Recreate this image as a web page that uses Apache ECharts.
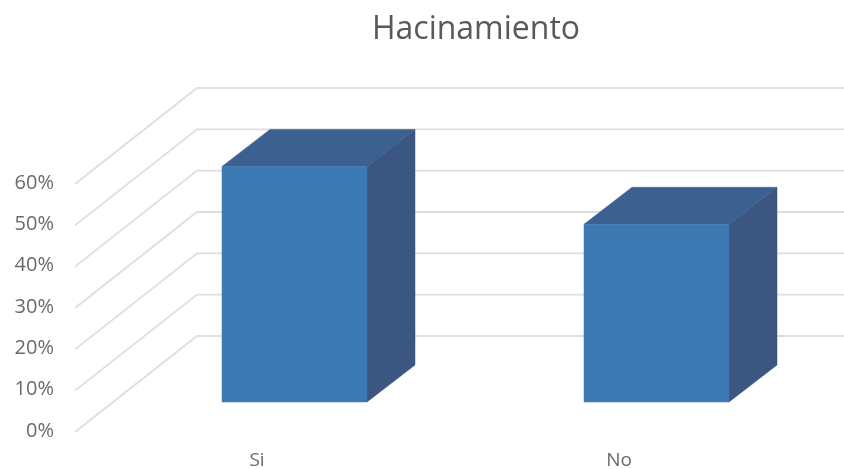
<!DOCTYPE html>
<html><head><meta charset="utf-8">
<style>html,body{margin:0;padding:0;background:#fff}#c{width:844px;height:469px}</style>
<script src="https://cdn.jsdelivr.net/npm/echarts@6/dist/echarts.min.js"></script>
</head><body><div id="c"></div>
<script>
const titleText = 'Hacinamiento';
const categories = ['Si', 'No'];
const values = [57, 43];
const ticks = [0, 10, 20, 30, 40, 50, 60];

const DEPTH_X = 122, DEPTH_Y = -95;      // wall depth in px
const BAR_FRONT_X = 37, BAR_FRONT_Y = -29, BAR_DEPTH_X = 48, BAR_DEPTH_Y = -37;
const BAR_WIDTH = 145;
const GRID_COLOR = '#dedede';

const chart = echarts.init(document.getElementById('c'), null, {renderer: 'canvas'});

function renderWall(params, api) {
  const y = api.coord([0, api.value(1)])[1];
  const x0 = params.coordSys.x;
  return {
    type: 'polyline', silent: true,
    shape: {points: [[x0 - 1, y + 1], [x0 - 1 + DEPTH_X, y + DEPTH_Y], [844, y + DEPTH_Y]]},
    style: {fill: null, stroke: GRID_COLOR, lineWidth: 1.8}
  };
}

function renderBar(params, api) {
  const base = api.coord([api.value(0), 0]);
  const top = api.coord([api.value(0), api.value(1)]);
  const l = base[0] + BAR_FRONT_X - BAR_WIDTH / 2 + 0.5, r = l + BAR_WIDTH;
  const yb = base[1] + BAR_FRONT_Y, yt = top[1] + BAR_FRONT_Y;
  const dx = BAR_DEPTH_X, dy = BAR_DEPTH_Y;
  const poly = (pts, fill) => ({type: 'polygon', shape: {points: pts}, style: {fill: fill, stroke: fill, lineWidth: 0.5}});
  return {type: 'group', children: [
    poly([[r, yt], [r + dx, yt + dy], [r + dx, yb + dy], [r, yb]], '#3b5680'),
    poly([[l, yt], [l + dx, yt + dy], [r + dx, yt + dy], [r, yt]], '#3c6090'),
    poly([[l, yt], [r, yt], [r, yb], [l, yb]], '#3d79b3')
  ]};
}

chart.setOption({
  animation: false,
  backgroundColor: '#ffffff',
  title: {
    text: titleText, left: 471, top: 9, textAlign: 'center',
    textStyle: {fontFamily: 'Open Sans', fontSize: 32, fontWeight: 'normal', color: '#595959'}
  },
  grid: {left: 76, width: 724, top: 183, height: 248, containLabel: false, outerBoundsMode: 'none'},
  xAxis: {
    type: 'category', data: categories,
    axisLine: {show: false}, axisTick: {show: false},
    axisLabel: {margin: 20, fontFamily: 'Open Sans', fontSize: 19, color: '#6a6a6a'}
  },
  yAxis: {
    type: 'value', min: 0, max: 60, interval: 10,
    axisLine: {show: false}, axisTick: {show: false}, splitLine: {show: false},
    axisLabel: {formatter: '{value}%', margin: 22, padding: [0, 0, 6, 0], fontFamily: 'Open Sans', fontSize: 20, color: '#6a6a6a'}
  },
  series: [
    {type: 'custom', z: 1, silent: true, renderItem: renderWall, encode: {x: 0, y: 1}, data: ticks.map(t => [0, t])},
    {type: 'custom', z: 2, silent: true, renderItem: renderBar, encode: {x: 0, y: 1}, data: values.map((v, i) => [i, v])}
  ]
});
</script></body></html>
